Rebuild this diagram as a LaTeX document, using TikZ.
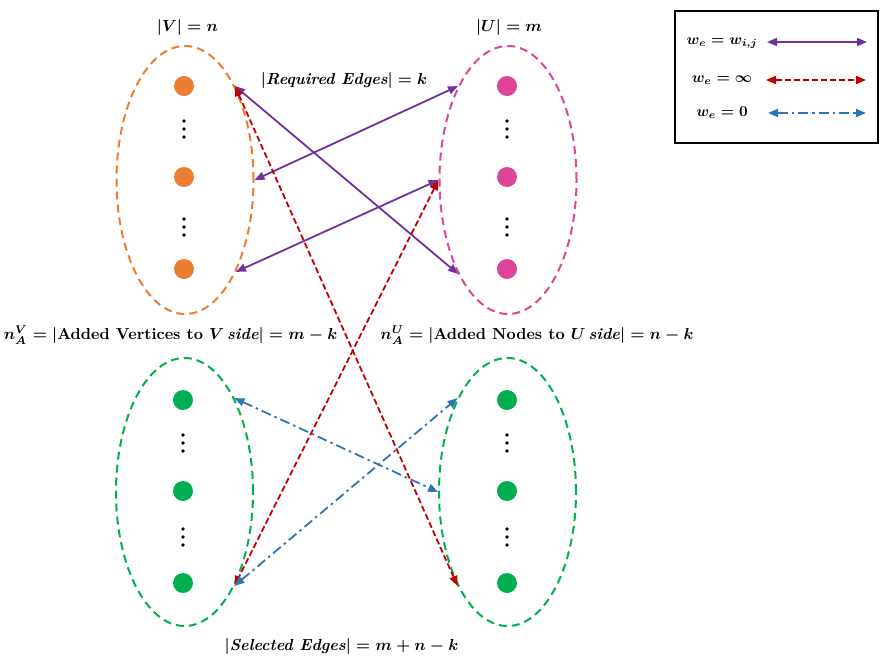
\documentclass[tikz,border=0pt]{standalone}
\usetikzlibrary{shapes.geometric,arrows.meta}
\definecolor{corange}{RGB}{237,125,49}
\definecolor{cpink}{RGB}{222,68,152}
\definecolor{cgreen}{RGB}{0,176,80}
\definecolor{cpurple}{RGB}{112,48,160}
\definecolor{cred}{RGB}{192,0,0}
\definecolor{cblue}{RGB}{46,117,182}
\begin{document}
\begin{tikzpicture}[x=1pt,y=-1pt,
  setell/.style={draw=#1, ellipse, line width=2pt, dash pattern=on 8pt off 5pt,
    minimum width=137pt, minimum height=268pt, inner sep=0pt},
  vert/.style={circle, fill=#1, minimum size=20pt, inner sep=0pt},
  bothtips/.style={{Triangle[length=10pt,width=8pt]}-{Triangle[length=10pt,width=8pt]}},
  wedge/.style={cpurple, line width=1.8pt, bothtips},
  infedge/.style={cred, line width=1.8pt, dash pattern=on 6pt off 3pt, bothtips},
  zeroedge/.style={cblue, line width=1.8pt, dash pattern=on 10pt off 4pt on 2.5pt off 4pt, bothtips},
  lab/.style={font=\normalsize\boldmath, inner sep=0pt, scale=1.6, transform shape},
  keylab/.style={font=\normalsize\boldmath, inner sep=0pt, scale=1.5, transform shape}]
\useasboundingbox (0,0) rectangle (880,662);

% sets
\node[setell=corange] (V) at (185,180) {};
\node[setell=cpink] (U) at (508,180) {};
\node[setell=cgreen] (VA) at (184.5,492) {};
\node[setell=cgreen] (UA) at (507.5,492) {};

% vertices
\node[vert=corange] (v1) at (184,86) {};
\node[vert=corange] (v2) at (184,177) {};
\node[vert=corange] (v3) at (184,269) {};
\node[vert=cpink] (u1) at (507,86) {};
\node[vert=cpink] (u2) at (507,177) {};
\node[vert=cpink] (u3) at (507,269) {};
\node[vert=cgreen] (a1) at (183,400) {};
\node[vert=cgreen] (a2) at (183,491) {};
\node[vert=cgreen] (a3) at (183,583) {};
\node[vert=cgreen] (b1) at (507,400) {};
\node[vert=cgreen] (b2) at (507,491) {};
\node[vert=cgreen] (b3) at (507,583) {};

% vertical dots
\foreach \x/\y in {184/129, 184/227, 507/129, 507/227, 183/443, 183/537, 507/443, 507/537}{
  \foreach \d in {-8,0,8}{ \fill (\x,\y+\d) circle (1.9pt); }
}

% edges
\draw[wedge] (V.62) -- (U.-118);
\draw[wedge] (V.0) -- (U.118);
\draw[wedge] (V.-61) -- (U.180);
\draw[infedge] (V.62) -- (UA.-118);
\draw[infedge] (U.180) -- (VA.-62);
\draw[zeroedge] (VA.62) -- (UA.180);
\draw[zeroedge] (VA.-62) -- (UA.118);

% labels
\node[lab] (lV) at (187.5,27) {$|V| = n$};
\node[lab] (lU) at (509,27) {$|U| = m$};
\node[lab] (lR) at (344,80) {$|\textbf{\textit{Required Edges}}| = k$};
\node[lab] (lAV) at (170.5,335) {$n_A^V = |\textbf{Added Vertices to }V\,\textbf{\textit{side}}| = m - k$};
\node[lab] (lAU) at (537,335) {$n_A^U = |\textbf{Added Nodes to }U\,\textbf{\textit{side}}| = n - k$};
\node[lab] (lS) at (341.5,646) {$|\textbf{\textit{Selected Edges}}| = m + n - k$};

% legend
\draw[line width=2pt] (675,11) rectangle (878,143);
\node[keylab] (k1) at (722,43) {$w_e = w_{i,j}$};
\node[keylab] (k2) at (722,80) {$w_e = \infty$};
\node[keylab] (k3) at (722,113) {$w_e = 0$};
\coordinate (k1a) at (767,42); \coordinate (k1b) at (867,42);
\coordinate (k2a) at (766,80); \coordinate (k2b) at (866,80);
\coordinate (k3a) at (768,113); \coordinate (k3b) at (866,113);
\draw[wedge] (k1a) -- (k1b);
\draw[infedge] (k2a) -- (k2b);
\draw[zeroedge] (k3a) -- (k3b);
\end{tikzpicture}
\end{document}
